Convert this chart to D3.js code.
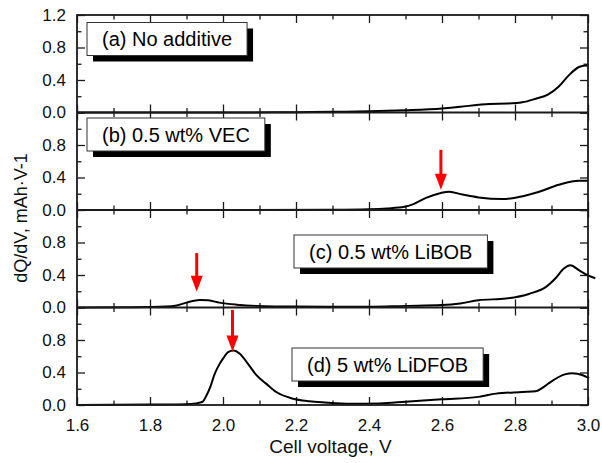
<!DOCTYPE html>
<html>
<head>
<meta charset="utf-8">
<script src="https://cdn.jsdelivr.net/npm/d3@7/dist/d3.min.js"></script>
<style>
  html, body { margin: 0; padding: 0; background: #fff; }
  svg { display: block; font-family: "Liberation Sans", Arial, sans-serif; }
</style>
</head>
<body>
<svg id="chart" width="602" height="463"></svg>
<script>
// Differential capacity curves, one panel per electrolyte
const panelLabels = ["(a) No additive", "(b) 0.5 wt% VEC", "(c) 0.5 wt% LiBOB", "(d) 5 wt% LiDFOB"];

const curveA = [[1.60,0.0],[1.80,0.0],[2.00,0.0],[2.20,0.004],[2.30,0.008],[2.40,0.014],[2.50,0.028],
  [2.60,0.05],[2.65,0.07],[2.70,0.095],[2.73,0.106],[2.78,0.11],[2.82,0.125],[2.857,0.17],[2.89,0.22],
  [2.92,0.32],[2.948,0.46],[2.975,0.56],[2.993,0.58],[3.00,0.575]];

const curveB = [[1.60,0.0],[2.00,0.0],[2.30,0.004],[2.40,0.01],[2.45,0.02],[2.497,0.04],[2.52,0.07],
  [2.556,0.15],[2.597,0.21],[2.62,0.225],[2.656,0.19],[2.70,0.155],[2.766,0.135],[2.81,0.16],
  [2.866,0.225],[2.92,0.31],[2.975,0.36],[3.00,0.36]];

const curveC = [[1.60,0.0],[1.75,0.003],[1.843,0.012],[1.873,0.025],[1.90,0.06],[1.936,0.093],[1.96,0.088],
  [1.99,0.06],[2.037,0.035],[2.09,0.02],[2.20,0.012],[2.40,0.01],[2.50,0.02],[2.60,0.03],[2.65,0.05],
  [2.70,0.09],[2.775,0.11],[2.84,0.17],[2.884,0.25],[2.911,0.36],[2.934,0.48],[2.952,0.52],[2.975,0.46],
  [2.998,0.40],[3.02,0.36]];

const curveD = [[1.60,0.0],[1.80,0.005],[1.90,0.01],[1.925,0.02],[1.944,0.04],[1.955,0.12],[1.965,0.22],
  [1.977,0.38],[1.99,0.50],[2.00,0.57],[2.014,0.65],[2.029,0.67],[2.046,0.63],[2.068,0.51],[2.091,0.37],
  [2.119,0.26],[2.146,0.16],[2.19,0.08],[2.237,0.045],[2.28,0.03],[2.35,0.015],[2.43,0.02],[2.50,0.04],
  [2.60,0.07],[2.70,0.10],[2.748,0.14],[2.82,0.16],[2.857,0.17],[2.875,0.21],[2.893,0.27],[2.939,0.38],
  [2.957,0.39],[2.984,0.37],[3.003,0.33]];

const curves = [curveA, curveB, curveC, curveD];

// Red arrows marking the additive reduction peaks: panel, voltage, tip value, tail value
const arrowPanels = [1, 2, 3];
const arrowVoltages = [2.597, 1.928, 2.026];
const arrowTips = [0.25, 0.195, 0.66];
const arrowTails = [0.74, 0.67, 1.17];

const xTicksMajor = [1.6, 1.8, 2.0, 2.2, 2.4, 2.6, 2.8, 3.0];
const xTicksMinor = [1.7, 1.9, 2.1, 2.3, 2.5, 2.7, 2.9];
const yTicksMajor = [0.0, 0.4, 0.8];
const yTicksMinor = [0.2, 0.6, 1.0];

const svg = d3.select("#chart");
const plotLeft = 77, plotRight = 588, plotTop = 15, plotBottom = 405;
const nP = 4, pH = (plotBottom - plotTop) / nP;

const x = d3.scaleLinear().domain([1.6, 3.0]).range([plotLeft, plotRight]);
const yFor = i => d3.scaleLinear().domain([0, 1.2]).range([plotTop + (i + 1) * pH, plotTop + i * pH]);

const axisColor = "#1a1a1a";
const styleAxis = g => {
  g.selectAll("path.domain").remove();
  g.selectAll("line").attr("stroke", axisColor).attr("stroke-width", 1.3);
  g.selectAll("text").attr("fill", "#111").style("font-size", "17px").style("font-family", "'Liberation Sans', Arial, sans-serif");
};

// box positions (pixel offsets within each panel)
const boxLeft = [87, 87, 294, 292];
const boxTop = [7.5, 5.5, 25, 40.5];
const boxH = 33;

const line = d3.line().x(d => x(d[0])).curve(d3.curveMonotoneX);

for (let i = 0; i < nP; i++) {
  const y = yFor(i);
  const g = svg.append("g");
  const y0 = y(0), y1 = y(1.2);

  // x ticks on top (pointing down) and bottom (pointing up)
  g.append("g").attr("transform", `translate(0,${y1})`)
    .call(d3.axisTop(x).tickValues(xTicksMajor).tickSize(-8).tickFormat("")).call(styleAxis);
  g.append("g").attr("transform", `translate(0,${y1})`)
    .call(d3.axisTop(x).tickValues(xTicksMinor).tickSize(-4.5).tickFormat("")).call(styleAxis);
  const bAx = d3.axisBottom(x).tickValues(xTicksMajor).tickSize(-8).tickPadding(14)
    .tickFormat(i === nP - 1 ? d3.format(".1f") : "");
  g.append("g").attr("transform", `translate(0,${y0})`).call(bAx).call(styleAxis);
  g.append("g").attr("transform", `translate(0,${y0})`)
    .call(d3.axisBottom(x).tickValues(xTicksMinor).tickSize(-4.5).tickFormat("")).call(styleAxis);

  // y ticks, left (labelled) and right
  const yMaj = i === 0 ? yTicksMajor.concat([1.2]) : yTicksMajor;
  g.append("g").attr("transform", `translate(${plotLeft},0)`)
    .call(d3.axisLeft(y).tickValues(yMaj).tickSize(-8).tickPadding(11).tickFormat(d3.format(".1f"))).call(styleAxis);
  g.append("g").attr("transform", `translate(${plotLeft},0)`)
    .call(d3.axisLeft(y).tickValues(yTicksMinor).tickSize(-4.5).tickFormat("")).call(styleAxis);
  g.append("g").attr("transform", `translate(${plotRight},0)`)
    .call(d3.axisRight(y).tickValues(yTicksMajor.concat([1.2])).tickSize(-8).tickFormat("")).call(styleAxis);
  g.append("g").attr("transform", `translate(${plotRight},0)`)
    .call(d3.axisRight(y).tickValues(yTicksMinor).tickSize(-4.5).tickFormat("")).call(styleAxis);

  // data curve
  g.append("path").datum(curves[i])
    .attr("d", line.y(d => y(d[1])))
    .attr("fill", "none").attr("stroke", "#000").attr("stroke-width", 2)
    .attr("stroke-linejoin", "round");

  // label box with drop shadow
  const lg = g.append("g").attr("class", "panel-label");
  const shadow = lg.append("rect").attr("fill", "#000");
  const box = lg.append("rect").attr("fill", "#fff").attr("stroke", "#333").attr("stroke-width", 1);
  const txt = lg.append("text").text(panelLabels[i])
    .style("font-size", "20px").attr("fill", "#000");
  const tw = txt.node().getComputedTextLength();
  const bw = tw + 30, bx = boxLeft[i], by = y1 + boxTop[i];
  shadow.attr("x", bx + 6).attr("y", by + 6).attr("width", bw).attr("height", boxH);
  box.attr("x", bx).attr("y", by).attr("width", bw).attr("height", boxH);
  txt.attr("x", bx + bw / 2).attr("y", by + boxH / 2).attr("text-anchor", "middle").attr("dy", "0.36em");
}

// panel frame and separators
svg.append("rect").attr("x", plotLeft).attr("y", plotTop).attr("width", plotRight - plotLeft).attr("height", plotBottom - plotTop)
  .attr("fill", "none").attr("stroke", axisColor).attr("stroke-width", 1.8);
for (let i = 1; i < nP; i++) {
  svg.append("line").attr("x1", plotLeft).attr("x2", plotRight).attr("y1", plotTop + i * pH).attr("y2", plotTop + i * pH)
    .attr("stroke", axisColor).attr("stroke-width", 1.8);
}

// arrows
arrowPanels.forEach((p, k) => {
  const y = yFor(p);
  const ax = x(arrowVoltages[k]), yt = y(arrowTips[k]), ys = y(arrowTails[k]);
  const head = 16, hw = 6;
  svg.append("line").attr("x1", ax).attr("x2", ax).attr("y1", ys).attr("y2", yt - head + 2)
    .attr("stroke", "#ff0000").attr("stroke-width", 3);
  svg.append("path").attr("d", `M${ax - hw},${yt - head}L${ax + hw},${yt - head}L${ax},${yt}Z`).attr("fill", "#ff0000");
});

// axis titles
svg.append("text").attr("x", (plotLeft + plotRight) / 2 - 2).attr("y", 453).attr("text-anchor", "middle")
  .style("font-size", "19px").attr("fill", "#111").text("Cell voltage, V");
svg.append("text").attr("transform", `translate(27,${(plotTop + plotBottom) / 2 + 8}) rotate(-90)`)
  .attr("text-anchor", "middle").style("font-size", "18px").attr("fill", "#111").text("dQ/dV, mAh·V-1");
</script>
</body>
</html>
